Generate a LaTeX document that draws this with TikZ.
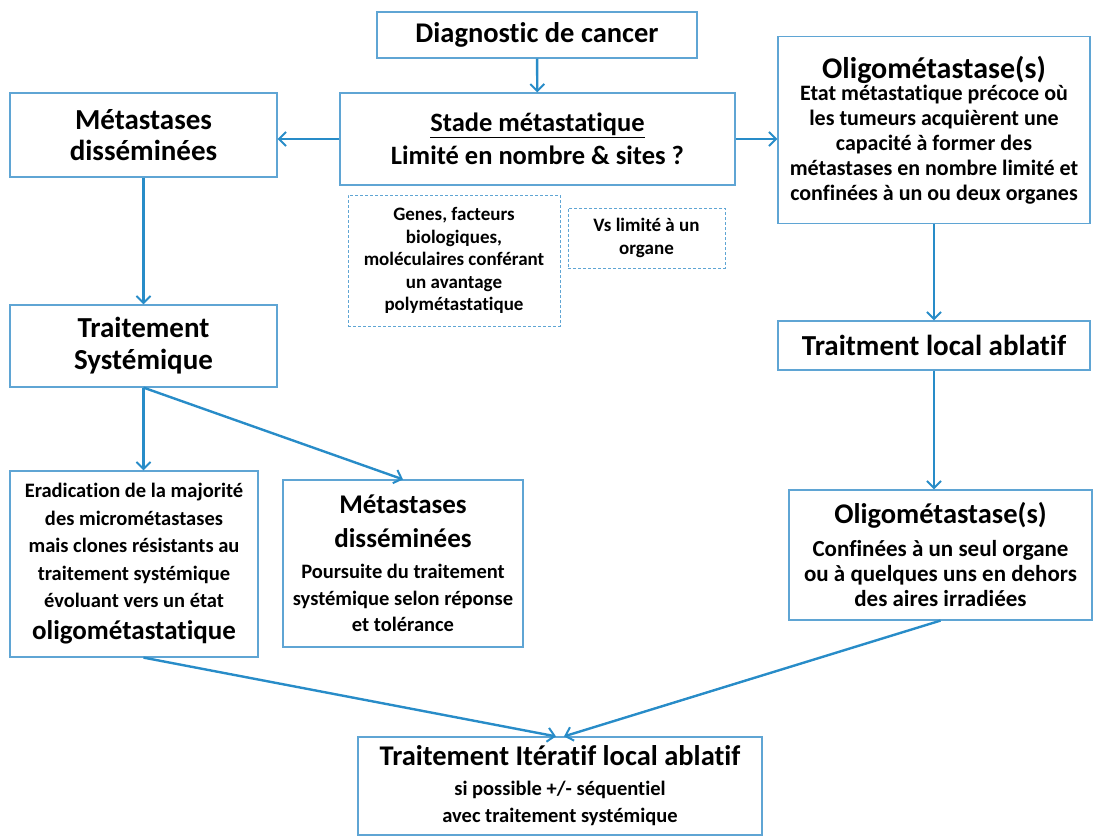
\documentclass[tikz,border=0pt]{standalone}
\usepackage{fontspec}
\setmainfont{Carlito}[Ligatures=NoCommon]
\usetikzlibrary{arrows.meta}
\definecolor{boxblue}{RGB}{95,165,212}
\definecolor{arrblue}{RGB}{40,140,200}
\newcommand{\fs}[2]{\fontsize{#1}{#2}\selectfont}
\begin{document}
\begin{tikzpicture}[x=1pt, y=-1pt,
  box/.style={draw=boxblue, line width=1.2pt, inner sep=0pt, align=center},
  dbox/.style={draw=boxblue, densely dashed, line width=0.8pt, inner sep=0pt, align=center,
    font=\bfseries\fs{19}{22.5}},
  flow/.style={-{Straight Barb[length=7pt, width=14pt, line width=2pt]}, draw=arrblue, line width=2.4pt}]
\useasboundingbox (0,0) rectangle (1093,837);
\node[box, minimum width=320, minimum height=46, font=\bfseries\fs{28.5}{33}] (diag) at (537, 35)
  {Diagnostic de cancer};
\node[box, minimum width=395, minimum height=92, font=\bfseries\fs{26.5}{33}] (stade) at (537.5, 139)
  {\underline{Stade métastatique}\\ Limité en nombre \& sites ?};
\node[box, minimum width=267, minimum height=84, font=\bfseries\fs{29}{31}] (metl) at (143.5, 135)
  {Métastases\\ disséminées};
\node[box, minimum width=312, minimum height=187, font=\bfseries\fs{22}{25}] (oligo) at (934, 130)
  {\fs{30}{25}Oligométastase(s)\\[-3.4pt]
   Etat métastatique précoce où\\ les tumeurs acquièrent une\\
   capacité à former des\\ métastases en nombre limité et\\ confinées à un ou deux organes};
\node[dbox, minimum width=212, minimum height=131] (genes) at (454, 260.5)
  {Genes, facteurs\\ biologiques,\\ moléculaires conférant\\ un avantage\\ polymétastatique};
\node[dbox, minimum width=157, minimum height=60] (vs) at (646.5, 238) {Vs limité à un\\ organe};
\node[box, minimum width=267, minimum height=82, font=\bfseries\fs{29}{32}] (ts) at (143.5, 346)
  {Traitement\\ Systémique};
\node[box, minimum width=312, minimum height=49, font=\bfseries\fs{29}{33}] (tla) at (934, 345.5)
  {Traitment local ablatif};
\node[box, minimum width=248, minimum height=186, font=\bfseries\fs{20.5}{27.5}] (erad) at (134, 564)
  {Eradication de la majorité\\ des micrométastases\\ mais clones résistants au\\
   traitement systémique\\ évoluant vers un état\\[4.5pt] \fs{27}{27}oligométastatique};
\node[box, minimum width=240, minimum height=167, font=\bfseries\fs{20.5}{26.5}] (met2) at (403, 563.5)
  {\fs{27}{27}Métastases\\[7.5pt] \fs{27}{27}disséminées\\[4.5pt] Poursuite du traitement\\
   systémique selon réponse\\ et tolérance};
\node[box, minimum width=303, minimum height=130, font=\bfseries\fs{23}{25}] (oligo2) at (940.5, 555)
  {\fs{28.5}{28}Oligométastase(s)\\[8pt] Confinées à un seul organe\\ ou à quelques uns en dehors\\
   des aires irradiées};
\node[box, minimum width=404, minimum height=98, font=\bfseries\fs{20.5}{27}] (iter) at (560, 786)
  {\fs{28.5}{28}Traitement Itératif local ablatif\\[3pt] si possible +/- séquentiel\\ avec traitement systémique};
% arrows
\draw[flow] (diag) -- (stade);
\draw[flow] (stade.west) -- (stade.west -| metl.east);
\draw[flow] (stade.east) -- (stade.east -| oligo.west);
\draw[flow] (metl) -- (ts);
\draw[flow] (ts.south) -- (erad.north -| ts.south);
\draw[flow] (ts.south) -- (met2.north);
\draw[flow] (oligo) -- (tla);
\draw[flow] (tla.south) -- (tla.south |- oligo2.north);
\draw[flow] (erad.south -| ts.south) -- ([xshift=-4]iter.north);
\draw[flow] (oligo2.south) -- ([xshift=4]iter.north);
\end{tikzpicture}
\end{document}
